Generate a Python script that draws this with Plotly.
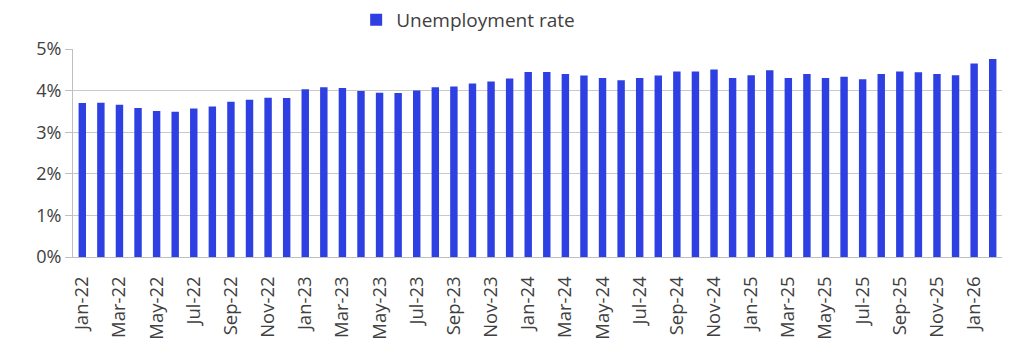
import plotly.graph_objects as go

months = [
    "Jan-22", "Feb-22", "Mar-22", "Apr-22", "May-22", "Jun-22", "Jul-22", "Aug-22", "Sep-22", "Oct-22", "Nov-22", "Dec-22",
    "Jan-23", "Feb-23", "Mar-23", "Apr-23", "May-23", "Jun-23", "Jul-23", "Aug-23", "Sep-23", "Oct-23", "Nov-23", "Dec-23",
    "Jan-24", "Feb-24", "Mar-24", "Apr-24", "May-24", "Jun-24", "Jul-24", "Aug-24", "Sep-24", "Oct-24", "Nov-24", "Dec-24",
    "Jan-25", "Feb-25", "Mar-25", "Apr-25", "May-25", "Jun-25", "Jul-25", "Aug-25", "Sep-25", "Oct-25", "Nov-25", "Dec-25",
    "Jan-26", "Feb-26",
]
unemployment = [
    3.70, 3.71, 3.66, 3.58, 3.51, 3.49, 3.57, 3.62, 3.73, 3.78, 3.83, 3.82,
    4.03, 4.08, 4.06, 3.99, 3.95, 3.94, 4.00, 4.08, 4.10, 4.17, 4.22, 4.29,
    4.45, 4.45, 4.40, 4.36, 4.30, 4.25, 4.30, 4.36, 4.46, 4.46, 4.51, 4.30,
    4.37, 4.49, 4.30, 4.40, 4.30, 4.33, 4.27, 4.40, 4.46, 4.44, 4.40, 4.37,
    4.65, 4.76,
]
y_ticks = [0, 1, 2, 3, 4, 5]
y_tick_labels = ["0%", "1%", "2%", "3%", "4%", "5%"]

fig = go.Figure()
fig.add_trace(go.Bar(
    x=months, y=unemployment, name="Unemployment rate",
    marker=dict(color="#2E40E2", line=dict(width=0)),
))

fig.update_layout(
    width=1024, height=361,
    margin=dict(l=65, r=30, t=41, b=112, autoexpand=False),
    paper_bgcolor="white", plot_bgcolor="white",
    font=dict(family="Open Sans", size=17, color="#404040"),
    bargap=0.6,
    showlegend=True,
    legend=dict(orientation="h", xref="container", yref="container",
                x=0.340, xanchor="left", y=0.967, yanchor="middle",
                font=dict(size=19, color="#404040"), itemwidth=30,
                bgcolor="rgba(0,0,0,0)"),
    xaxis=dict(
        type="category", tickmode="array", tickvals=months[::2], ticktext=months[::2],
        tickangle=-90, showgrid=False, showline=True, linecolor="#BFBFBF", linewidth=1,
        ticks="outside", ticklen=11, tickcolor="rgba(0,0,0,0)",
        tickfont=dict(size=18.5, color="#404040"), automargin=False,
    ),
    yaxis=dict(
        range=[0, 5], tickvals=y_ticks, ticktext=y_tick_labels,
        showgrid=True, gridcolor="#C8C8C8", gridwidth=1,
        showline=True, linecolor="#BFBFBF", linewidth=1,
        ticks="outside", ticklen=7, tickcolor="#BFBFBF",
        tickfont=dict(size=18, color="#404040"), zeroline=False, automargin=False,
    ),
)

fig.write_html("out.html")
